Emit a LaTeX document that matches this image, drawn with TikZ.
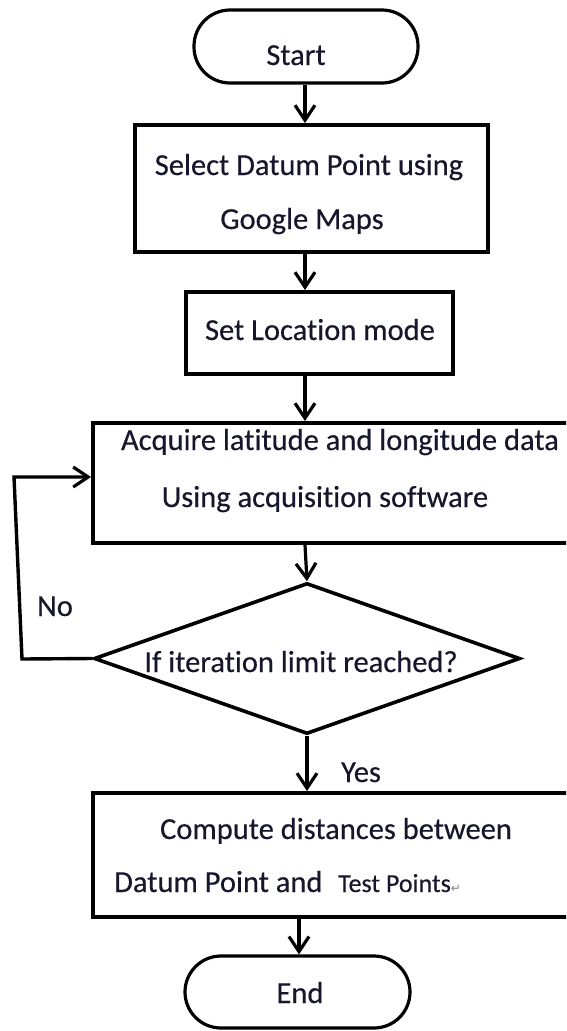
\documentclass[tikz,border=0pt]{standalone}
\usepackage{fontspec}
\setmainfont{Carlito}[Ligatures=NoCommon]
\newfontfamily\mainf{Carlito}[Ligatures=NoCommon,FakeBold=0.35]
\newfontfamily\symfont{DejaVu Sans}
\usetikzlibrary{arrows.meta,shapes.geometric}
\definecolor{txt}{RGB}{22,22,45}
\begin{document}
\begin{tikzpicture}[x=1pt,y=-1pt,
  box/.style={draw,line width=3.8pt,inner sep=0pt},
  term/.style={draw,line width=3.2pt,inner sep=0pt,rounded corners=36pt},
  lbl/.style={inner sep=0pt,anchor=base,text=txt,font=\mainf\fontsize{30.5}{33}\selectfont},
  arr/.style={line width=3.2pt,-{Straight Barb[length=15pt,width=20pt,line width=3.2pt]}}]
\useasboundingbox (0,0) rectangle (566,1031);
\clip (0,0) rectangle (566,1031);
\fill[white] (0,0) rectangle (566,1031);
\coordinate (col) at (305,0);
% nodes
\node[term,minimum width=224pt,minimum height=73pt] (start) at (306,46.5) {};
\node[box,minimum width=353pt,minimum height=127pt] (b1) at (311.5,188.5) {};
\node[box,minimum width=267pt,minimum height=82pt] (b2) at (319.5,333) {};
\node[box,minimum width=497pt,minimum height=120pt] (b3) at (341.5,483) {};
\node[draw,diamond,line width=3.6pt,inner sep=0pt,minimum width=426pt,minimum height=151pt] (dia) at (307,658.5) {};
\node[box,minimum width=497pt,minimum height=124pt] (b4) at (341.5,855) {};
\node[term,minimum width=225pt,minimum height=72pt] (end) at (297.5,992) {};
% texts
\node[lbl] (tstart) at (296,65) {Start};
\node[lbl] (t1a) at (309,175) {Select Datum Point using};
\node[lbl] (t1b) at (302,229) {Google Maps};
\node[lbl] (t2) at (320,340) {Set Location mode};
\node[lbl] (t3a) at (340,450) {Acquire latitude and longitude data};
\node[lbl] (t3b) at (325,507) {Using acquisition software};
\node[lbl] (tdia) at (301,672) {If iteration limit reached?};
\node[lbl] (tno) at (55,616) {No};
\node[lbl] (tyes) at (361,782) {Yes};
\node[lbl] (t4a) at (336,839) {Compute distances between};
\node[lbl,anchor=base west] (t4b) at (114,892) {Datum Point and};
\node[inner sep=0pt,anchor=base west,text=txt,font=\mainf\fontsize{26}{28}\selectfont] (t4c) at (338,892) {Test Points\textcolor{gray}{\symfont\fontsize{12}{14}\selectfont ↵}};
\node[lbl] (tend) at (300,1003) {End};
% connectors
\draw[arr] (start.south -| col) -- (b1.north -| col);
\draw[arr] (b1.south -| col) -- (b2.north -| col);
\draw[arr] (b2.south -| col) -- (b3.north -| col);
\draw[arr] (b3.south -| col) -- (dia.north);
\draw[arr] (dia.south) -- (b4.north -| dia.south);
\coordinate (l1) at (22,659);
\coordinate (l2) at (14,477);
\draw[arr,line width=3.4pt] (dia.west) -- (l1) -- (l2) -- (b3.west |- l2);
\coordinate (col2) at (299,0);
\draw[arr] (b4.south -| col2) -- (end.north -| col2);
\end{tikzpicture}
\end{document}
